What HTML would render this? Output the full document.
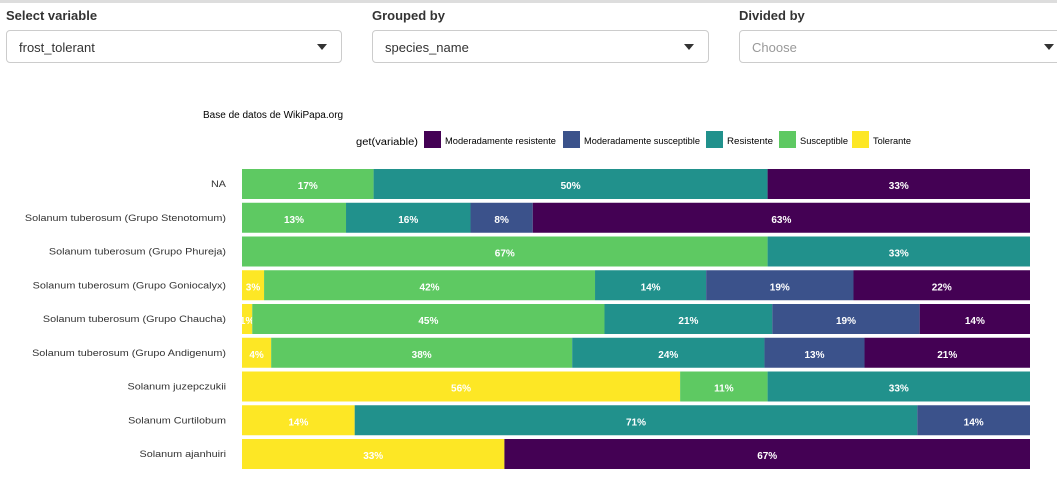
<!DOCTYPE html>
<html><head><meta charset="utf-8"><style>
body{margin:0;width:1057px;height:486px;background:#fff;font-family:"Liberation Sans",sans-serif;overflow:hidden;position:relative}
.topline{position:absolute;left:0;top:0;width:1057px;height:3px;background:#ddd}
.lbl{position:absolute;top:8px;font-size:13px;font-weight:bold;color:#333}
.sel{position:absolute;top:30px;height:33px;border:1px solid #ccc;border-radius:4px;background:#fff;font-size:13px;color:#333;box-sizing:border-box;padding:9px 12px}
.sel .arr{position:absolute;right:14px;top:13px;width:0;height:0;border-left:5px solid transparent;border-right:5px solid transparent;border-top:6px solid #333}
</style></head><body>
<div class="topline"></div>
<div class="lbl" style="left:6px">Select variable</div>
<div class="sel" style="left:6px;width:336px">frost_tolerant<span class="arr"></span></div>
<div class="lbl" style="left:372px">Grouped by</div>
<div class="sel" style="left:372px;width:337px">species_name<span class="arr"></span></div>
<div class="lbl" style="left:739px">Divided by</div>
<div class="sel" style="left:739px;width:330px;color:#999">Choose<span class="arr" style="right:14px"></span></div>
<svg id="chart" width="1057" height="486" style="position:absolute;left:0;top:0">
<text x="203" y="118" font-size="10" fill="#000">Base de datos de WikiPapa.org</text>
<g id="legend"></g>
<g id="bars"></g>
</svg>
<script>
const categories=["NA","Solanum tuberosum (Grupo Stenotomum)","Solanum tuberosum (Grupo Phureja)","Solanum tuberosum (Grupo Goniocalyx)","Solanum tuberosum (Grupo Chaucha)","Solanum tuberosum (Grupo Andigenum)","Solanum juzepczukii","Solanum Curtilobum","Solanum ajanhuiri"];
const seriesNames=["Tolerante","Susceptible","Resistente","Moderadamente susceptible","Moderadamente resistente"];
const colors=["#fde725","#5ec962","#21918c","#3b528b","#440154"];
const tolerante=[0,0,0,2.8,1.3,3.7,55.6,14.3,33.3];
const susceptible=[16.7,13.2,66.7,42.0,44.7,38.2,11.1,0,0];
const resistente=[50,15.8,33.3,14.1,21.3,24.4,33.3,71.4,0];
const modSusceptible=[0,7.9,0,18.7,18.7,12.7,0,14.3,0];
const modResistente=[33.3,63.1,0,22.4,14.0,21.0,0,0,66.7];
const series=[tolerante,susceptible,resistente,modSusceptible,modResistente];
const svg=document.getElementById('bars'),NS="http://www.w3.org/2000/svg";
const x0=242,x1=1030,yTop=169,pitch=33.75,bh=30;
const xs=v=>x0+v/100*(x1-x0);
const ys=i=>yTop+i*pitch;
function mk(t,a){const e=document.createElementNS(NS,t);for(const k in a)e.setAttribute(k,a[k]);return e;}
categories.forEach((c,i)=>{
  const tot=series.reduce((s,a)=>s+a[i],0);
  let cum=0;
  const lab=mk('text',{x:226,y:ys(i)+bh/2+3,'font-size':9,'text-anchor':'end',fill:'#333'});
  
  
  lab.textContent=c;svg.appendChild(lab);
  const w=lab.getComputedTextLength();
  if(w>0){lab.setAttribute('textLength',(w*1.2).toFixed(1));lab.setAttribute('lengthAdjust','spacingAndGlyphs');}
  series.forEach((arr,s)=>{
    const v=arr[i]/tot*100;if(v<=0)return;
    const r=mk('rect',{x:xs(cum),y:ys(i),width:xs(cum+v)-xs(cum),height:bh,fill:colors[s]});
    
    
    svg.appendChild(r);
    const t=mk('text',{x:(xs(cum)+xs(cum+v))/2,y:ys(i)+bh/2+5,'font-size':10,'font-weight':'bold','text-anchor':'middle',fill:'#fff'});
    
    
    t.textContent=Math.round(arr[i])+'%';svg.appendChild(t);
    cum+=v;
  });
});
const lg=document.getElementById('legend');
const gt=mk('text',{x:356,y:145,'font-size':10,fill:'#000',textLength:62,lengthAdjust:'spacingAndGlyphs'});gt.textContent='get(variable)';lg.appendChild(gt);
const order=[4,3,2,1,0];
const swX=[424,563,706,779,852];
const txW=[111,116,46,48,38];
order.forEach((s,k)=>{
  const r=mk('rect',{x:swX[k],y:131,width:17,height:17,fill:colors[s]});
  
  
  lg.appendChild(r);
  const t=mk('text',{x:swX[k]+21,y:144,'font-size':9,fill:'#000',textLength:txW[k],lengthAdjust:'spacingAndGlyphs'});
  
  
  t.textContent=seriesNames[s];lg.appendChild(t);
});
</script>
</body></html>
